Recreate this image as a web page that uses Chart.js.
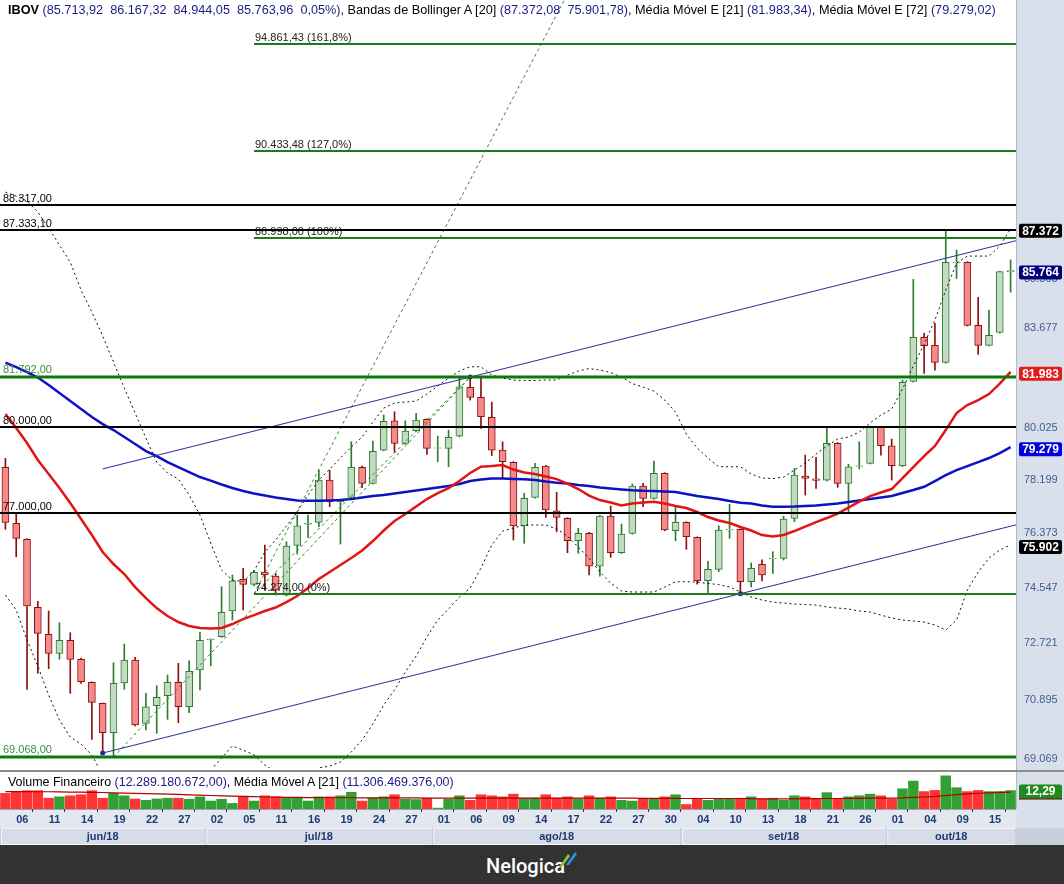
<!DOCTYPE html>
<html><head><meta charset="utf-8">
<script src="https://cdn.jsdelivr.net/npm/chart.js@4/dist/chart.umd.min.js"></script>
<style>
html,body{margin:0;padding:0;background:#fff;}
body{width:1064px;height:884px;overflow:hidden;position:relative;}
#main{position:absolute;left:0;top:0;width:1064px;height:770px;}
#vol{position:absolute;left:0;top:770px;width:1064px;height:75px;}
.hdr{position:absolute;left:8px;white-space:nowrap;font-family:"Liberation Sans",Arial,sans-serif;font-size:12px;color:#000;line-height:14px;}
.hdr .v{color:#1b1b86;}
#footer{position:absolute;left:0;top:845px;width:1064px;height:39px;background:#323232;}
#brand{position:absolute;left:486px;top:9px;font:500 20px Roboto,"Liberation Sans",sans-serif;color:#fff;}
#logo{position:absolute;left:556px;top:3px;}
</style></head><body>
<div id="main"><canvas id="c1"></canvas></div>
<div id="vol"><canvas id="c2"></canvas></div>
<div class="hdr" id="h1" style="top:3px"></div>
<div class="hdr" id="h2" style="top:775px"></div>
<div id="footer"><div id="brand">Nelogica</div>
<svg id="logo" width="24" height="24" viewBox="0 0 24 24"><polygon points="3,19 12,6 14,8 6,19" fill="#8cc63f"/><polygon points="10,17 19,4 21,6 13,17" fill="#1e96dc"/></svg></div>
<script>
// ---------- DATA ----------
const opens  = [78570,76637,76093,73825,72944,72330,72749,72137,71403,70738,69819,71384,72115,70111,70663,70978,71403,70631,71794,72759,72866,73704,74750,74584,74994,74860,74230,75890,76613,76671,78127,77377,77529,78570,78013,79178,80217,79414,79861,80267,79240,79238,79672,81418,81056,80338,79178,78746,76545,77529,78616,77068,76808,76046,76296,75194,76886,75641,76296,77920,77494,78361,76385,76671,76161,74704,75084,76410,76433,74670,75250,75430,75452,76808,78267,78173,78127,79414,78013,78600,78711,79981,79330,78627,81635,83250,82954,82329,86050,86075,83695,82954,83435,85713.92];
const highs  = [78886,76979,76120,74022,73704,73321,72996,72180,71420,70750,72028,72630,72201,71054,71294,71635,72008,72092,73009,72800,74505,74894,75117,75050,75901,74951,76012,76921,76921,78476,78476,77470,79471,78616,79495,80421,80539,80217,80481,80290,79672,79885,81745,81792,81745,80887,79471,78770,77667,78711,78640,77702,76830,76467,76330,76910,77229,76613,77989,78013,78792,78380,77205,76690,76180,75352,76555,77288,76450,75300,75400,75675,76886,78535,79002,78921,79981,79440,78676,79471,80028,80000,79566,81683,85427,83398,83770,87333.10,86547,86100,84745,84268,85740,86167.32];
const lows   = [76433,75506,71180,71689,71836,72137,71054,71371,69614,69190,69068,71180,70027,69903,69800,70236,70130,70443,71158,71932,72850,73409,73737,74540,74396,74230,74200,75597,76161,76521,77205,75934,77500,77861,77990,79150,79097,79390,79840,79027,78767,78592,79640,80959,79946,78985,78187,76070,75958,77500,76842,76351,75641,75621,74894,74860,75486,75620,76270,77205,77470,76385,76046,75755,74594,74306,75004,76127,74274,74500,74700,74950,75395,76692,77608,77840,78100,77875,76999,78511,78690,79002,78127,78600,81610,81927,82047,82300,85465,83670,82622,82930,83410,84944.05];
const closes = [76671,76127,73868,72976,72330,72749,72137,71422,70770,69819,71371,72115,70058,70631,70928,71403,70631,71753,72749,72791,73661,74704,74584,74984,74894,74396,75867,76555,76648,78127,77377,77435,78570,78013,79133,80195,79414,79850,80242,79238,79259,79626,81440,81056,80360,79178,78767,76545,77494,78570,77092,76842,76046,76296,75194,76886,75641,76273,77920,77494,78361,76409,76671,76181,74704,75084,76409,76433,74670,75117,74900,75452,76784,78302,78187,78117,79414,78013,78592,78627,79981,79330,78627,81599,83250,82939,82329,86075,86075,83695,82954,83324,85719,85763.96];
const ema21  = [80456,79957,79425,78827,78337,77850,77332,76784,76239,75665,75262,74927,74495,74131,73802,73540,73344,73214,73149,73132,73149,73279,73442,73572,73704,73819,73999,74197,74462,74760,74994,75228,75462,75715,76036,76392,76715,76955,77212,77470,77677,77850,78093,78372,78592,78616,78651,78493,78389,78337,78250,78162,78006,77816,77591,77435,77349,77247,77315,77349,77377,77315,77229,77161,77024,76852,76733,76647,76511,76392,76239,76188,76239,76375,76528,76681,76818,76972,77178,77384,77574,77695,77816,78197,78581,78967,79320,79885,80492,80779,80959,81175,81556,81983.34];
const ema72  = [82321,82157,81975,81774,81501,81211,80922,80635,80349,80099,79885,79637,79390,79143,78967,78756,78581,78406,78232,78110,77972,77850,77747,77660,77591,77522,77470,77418,77408,77408,77418,77435,77470,77522,77574,77608,77660,77712,77764,77816,77868,77920,77989,78093,78145,78180,78180,78162,78152,78127,78075,78033,78006,77954,77920,77868,77833,77798,77771,77754,77747,77729,77712,77643,77574,77522,77470,77401,77343,77315,77247,77205,77205,77212,77229,77247,77281,77315,77367,77418,77470,77522,77574,77678,77781,77895,78093,78302,78476,78616,78756,78897,79073,79279.02];
const bbUpper= [88810,88652,88455,88024,87399,86740,86086,85020,84192,83298,82340,81393,80492,79602,78756,78372,78162,77608,76921,75968,75061,74727,74677,75028,75665,76070,76545,77024,77608,78127,78511,78897,79284,79637,80170,80671,80851,80887,80923,81175,81465,81755,82011,82168,82168,81865,81755,81683,81665,81665,81683,81683,81865,82011,82102,82047,81956,81792,81556,81429,81284,80959,80528,79743,79249,78897,78592,78592,78592,78337,78197,78180,78232,78476,78721,79037,79320,79566,79637,79814,80134,80421,80635,81357,82194,83002,83893,85020,86048,86317,86317,86317,86702,87372.08];
const bbLower= [74230,73737,72759,71922,71000,70214,69685,69468,69130,68517,68061,67760,67610,67520,67610,67760,67910,68122,68365,68669,69037,69407,69283,69130,68822,68608,68486,68517,68608,68730,68792,68914,69222,69592,70089,70685,71158,71730,72243,72856,73409,73770,74164,74462,75127,75901,76375,76477,76579,76579,76579,76443,76205,75833,75462,74994,74628,74363,74330,74330,74330,74495,74671,74671,74661,74611,74578,74495,74340,74164,74065,74000,73967,73934,73917,73901,73835,73802,73770,73704,73672,73572,73474,73409,73377,73344,73246,73084,73409,74396,74994,75462,75732,75901.78];
// financial volume, billions of R$
const volume = [10.4,11.5,12.2,12.2,7.2,8.1,8.8,9.5,12.2,7.2,10.4,8.8,6.7,5.8,6.7,7.2,7.2,6.5,8.1,5.3,6.5,3.7,8.1,5.3,8.8,8.1,7.2,7.2,5.3,8.1,8.1,8.8,11.1,5.3,7.2,8.1,9.5,6.5,6.3,7.2,0.6,6.5,8.8,5.8,9.5,8.8,8.1,9.9,7.2,7.2,9.5,7.2,8.1,6.7,8.8,7.2,8.1,5.8,5.3,6.7,6.7,8.1,9.5,3.0,6.7,5.8,6.7,6.7,7.2,8.1,6.7,7.2,5.8,8.8,8.1,6.5,10.9,6.5,8.1,8.8,9.9,8.8,6.7,13.5,18.6,11.6,12.4,22.1,14.2,11.6,12.4,11.6,11.6,12.289180672];
const volMA  = [11.6,11.6,11.6,11.5,11.5,11.4,11.3,11.2,11.1,11.0,10.8,10.6,10.4,10.3,10.1,9.9,9.7,9.4,9.2,9.0,8.8,8.6,8.4,8.2,8.0,7.9,7.8,7.7,7.6,7.6,7.5,7.5,7.5,7.4,7.4,7.4,7.4,7.4,7.4,7.3,7.3,7.3,7.3,7.3,7.3,7.3,7.3,7.3,7.3,7.2,7.2,7.2,7.2,7.2,7.2,7.2,7.2,7.2,7.2,7.1,7.1,7.1,7.1,7.0,7.0,7.0,7.0,7.0,7.0,6.9,6.8,6.8,6.8,6.8,6.9,6.9,7.0,7.0,7.1,7.1,7.2,7.2,7.3,7.4,7.7,8.0,8.4,9.0,9.6,10.1,10.5,10.8,11.1,11.306469376];
const prevClose = 85719.0;
// x-axis tick labels (candle index, day text) and months (first candle index)
const xTickIdx  = [1,4,7,10,13,16,19,22,25,28,31,34,37,40,43,46,49,52,55,58,61,64,67,70,73,76,79,82,85,88,91];
const xTickText = ['06','11','14','19','22','27','02','05','11','16','19','24','27','01','06','09','14','17','22','27','30','04','10','13','18','21','26','01','04','09','15'];
const monthStart = [0,19,40,63,82];
const monthText  = ['jun/18','jul/18','ago/18','set/18','out/18'];
// price axis tick labels
const yTicks = [69069,70895,72721,74547,76373,78199,80025,81851,83677,85503,87329];
// drawn horizontal levels
const blackLevels = [88317.00, 87333.10, 80000.00, 77000.00];
const greenLevels = [81792.00, 69068.00];
// Fibonacci extension (A low, B high, C retrace) and projected levels
const fibA = {x:10, y:69068}, fibB = {x:43, y:81792}, fibC = {x:23, y:74274};
const fibLevels = [74274.00, 86998.00, 90433.48, 94861.43];
const fibText   = ['0%','100%','127,0%','161,8%'];
const steepEnd  = {x:52, y:97000};
// parallel channel anchors
const chLow1 = {x:9, y:69190}, chLow2 = {x:68, y:74274}, chHigh = {x:43, y:81792};

// ---------- HELPERS ----------
function br(v, dec){
  let s = Math.abs(v).toFixed(dec); let [a,b] = s.split('.');
  a = a.replace(/\B(?=(\d{3})+(?!\d))/g,'.');
  return (v<0?'-':'') + a + (b!==undefined ? ','+b : '');
}
const N = opens.length;
const idx = opens.map((_,i)=>i);
const isUp = i => closes[i] >= opens[i];
const XMIN = -0.5, XMAX = N - 0.5;
const YMIN = 68731, YMAX = 96736;
const sp = '\u00a0 ';
const last = N-1;
const chg = (closes[last]/prevClose - 1)*100;
const h1 = document.getElementById('h1'), h2 = document.getElementById('h2');
h1.innerHTML =
 '<b>IBOV</b> <span class="v">(' + br(opens[last],2)+sp+br(highs[last],2)+sp+br(lows[last],2)+sp+br(closes[last],2)+sp+br(chg,2)+'%)</span>, Bandas de Bollinger A [20] <span class="v">(' +
 br(bbUpper[last],2)+sp+br(bbLower[last],2)+')</span>, Média Móvel E [21] <span class="v">('+br(ema21[last],2)+')</span>, Média Móvel E [72] <span class="v">('+br(ema72[last],2)+')</span>';
h2.innerHTML =
 'Volume Financeiro <span class="v">(' + br(volume[last]*1e9,2) + ')</span>, Média Móvel A [21] <span class="v">(' + br(volMA[last]*1e9,2) + ')</span>';
function fit(el, target){ const w = el.getBoundingClientRect().width; el.style.fontSize = (12*target/w).toFixed(2)+'px'; }
fit(h1, 988); fit(h2, 446);

const slope = (Math.log(chLow2.y)-Math.log(chLow1.y))/(chLow2.x-chLow1.x);
const ext = (p, x) => p.y*Math.exp(slope*(x-p.x));
const lowerCh = [{x:chLow1.x,y:chLow1.y},{x:XMAX,y:ext(chLow1,XMAX)}];
const upperCh = [{x:chLow1.x,y:ext(chHigh,chLow1.x)},{x:XMAX,y:ext(chHigh,XMAX)}];

const FONT = '"Liberation Sans", Arial, sans-serif';
const STRIP = '#d9dfeb';

function tag(ctx, y, text, bg){
  ctx.save();
  ctx.fillStyle = bg;
  const x0=1019, w=43, h=14;
  ctx.beginPath();
  if (ctx.roundRect) ctx.roundRect(x0, y-h/2, w, h, 2); else ctx.rect(x0,y-h/2,w,h);
  ctx.fill();
  ctx.fillStyle = '#fff';
  ctx.font = 'bold 12px ' + FONT;
  ctx.textBaseline = 'middle'; ctx.textAlign = 'center';
  ctx.fillText(text, x0+w/2, y+0.5);
  ctx.restore();
}

const mainDecor = {
  id:'mainDecor',
  beforeDraw(c){
    const {ctx, chartArea:a, width, height} = c;
    ctx.save();
    ctx.fillStyle='#fff'; ctx.fillRect(0,0,width,height);
    ctx.fillStyle=STRIP; ctx.fillRect(a.right,0,width-a.right,height);
    ctx.fillStyle='#b3bccc'; ctx.fillRect(a.right,0,1,height);
    ctx.restore();
  },
  afterDatasetsDraw(c){
    const {ctx, chartArea:a, scales:{x,y}} = c;
    ctx.save();
    ctx.beginPath(); ctx.rect(a.left,a.top,a.right-a.left,a.bottom-a.top); ctx.clip();
    ctx.font = '11px ' + FONT; ctx.textBaseline='alphabetic'; ctx.textAlign='left';
    const fx = x.getPixelForValue(fibC.x);
    fibLevels.forEach((v,k)=>{
      const py = Math.round(y.getPixelForValue(v));
      ctx.fillStyle='#1c7c1c'; ctx.fillRect(fx, py-1, a.right-fx, 2);
      ctx.fillStyle='#222'; ctx.fillText(br(v,2)+' ('+fibText[k]+')', fx+1, py-3);
    });
    blackLevels.forEach(v=>{
      const py = Math.round(y.getPixelForValue(v));
      ctx.fillStyle='#000'; ctx.fillRect(a.left, py-1, a.right-a.left, 2);
      ctx.fillText(br(v,2), 3, py-3);
    });
    greenLevels.forEach(v=>{
      const py = Math.round(y.getPixelForValue(v));
      ctx.fillStyle='#0b7a0b'; ctx.fillRect(a.left, py-1.5, a.right-a.left, 3);
      ctx.fillStyle='#3c8f3c'; ctx.fillText(br(v,2), 3, py-4);
    });
    ctx.restore();
  },
  afterDraw(c){
    const {ctx, scales:{y}} = c;
    const off = 2;
    tag(ctx, y.getPixelForValue(bbUpper[last])+off, br(bbUpper[last],0), '#000');
    tag(ctx, y.getPixelForValue(closes[last])+off, br(closes[last],0), '#00007a');
    tag(ctx, y.getPixelForValue(ema21[last])+off, br(ema21[last],0), '#e41b1b');
    tag(ctx, y.getPixelForValue(ema72[last])+off, br(ema72[last],0), '#0000d8');
    tag(ctx, y.getPixelForValue(bbLower[last])+off, br(bbLower[last],0), '#000');
  }
};

const upC='#2e7d2e', dnC='#8b1010';
new Chart(document.getElementById('c1'), {
  type:'bar',
  data:{datasets:[
    {type:'line', label:'chDots', data:[chLow1,chLow2,chHigh], showLine:false, pointRadius:2.5, pointBackgroundColor:'#2323a8', pointBorderWidth:0, order:0},
    {type:'line', label:'chLow', data:lowerCh, borderColor:'#2b2ba0', borderWidth:1, pointRadius:0, order:1},
    {type:'line', label:'chHigh', data:upperCh, borderColor:'#2b2ba0', borderWidth:1, pointRadius:0, order:1},
    {type:'line', label:'fibAB', data:[fibA,fibB], borderColor:'#2a8a2a', borderWidth:1, borderDash:[3,3], pointRadius:0, order:1},
    {type:'line', label:'fibCB', data:[fibC,fibB], borderColor:'#2a8a2a', borderWidth:1, borderDash:[3,3], pointRadius:0, order:1},
    {type:'line', label:'fibSteep', data:[fibC,steepEnd], borderColor:'#2a8a2a', borderWidth:1, borderDash:[3,3], pointRadius:0, order:1},
    {type:'line', label:'ema21', data:idx.map(i=>({x:i,y:ema21[i]})), borderColor:'#e31414', borderWidth:2.5, pointRadius:0, order:2},
    {type:'line', label:'ema72', data:idx.map(i=>({x:i,y:ema72[i]})), borderColor:'#0c12c4', borderWidth:2.5, pointRadius:0, order:3},
    {type:'line', label:'bbU', data:idx.map(i=>({x:i,y:bbUpper[i]})), borderColor:'#111', borderWidth:1, borderDash:[2,3], pointRadius:0, order:4},
    {type:'line', label:'bbL', data:idx.map(i=>({x:i,y:bbLower[i]})), borderColor:'#111', borderWidth:1, borderDash:[2,3], pointRadius:0, order:4},
    {type:'bar', label:'body', data:idx.map(i=>({x:i,y:[opens[i],closes[i]]})), grouped:false, barThickness:7, borderWidth:1, borderSkipped:false,
      backgroundColor:ctx=>isUp(ctx.dataIndex)?'#c3dbc3':'#f58a8a', borderColor:ctx=>isUp(ctx.dataIndex)?upC:dnC, order:5},
    {type:'bar', label:'wick', data:idx.map(i=>({x:i,y:[lows[i],highs[i]]})), grouped:false, barThickness:1, borderWidth:0,
      backgroundColor:ctx=>isUp(ctx.dataIndex)?upC:dnC, order:6}
  ]},
  options:{
    responsive:true, maintainAspectRatio:false, animation:false, events:[],
    layout:{autoPadding:false, padding:{top:0,bottom:2,left:0,right:0}},
    plugins:{legend:{display:false}, tooltip:{enabled:false}},
    scales:{
      x:{type:'linear', min:XMIN, max:XMAX, offset:false, display:false},
      y:{type:'logarithmic', position:'right', min:YMIN, max:YMAX,
        afterFit(s){s.width=48; s.paddingTop=0; s.paddingBottom=0;},
        afterBuildTicks(s){s.ticks = yTicks.map(v=>({value:v}));},
        grid:{display:false, drawTicks:false}, border:{display:false},
        ticks:{padding:8, labelOffset:2, color:'#3f5f8c', font:{family:FONT,size:11}, callback:v=>br(v,0)}}
    }
  },
  plugins:[mainDecor]
});

const volDecor = {
  id:'volDecor',
  beforeDraw(c){
    const {ctx, chartArea:a, width, height, scales:{x}} = c;
    ctx.save();
    ctx.fillStyle='#fff'; ctx.fillRect(0,0,width,height);
    ctx.fillStyle=STRIP; ctx.fillRect(a.right,0,width-a.right,height);
    ctx.fillStyle='#b3bccc'; ctx.fillRect(a.right,0,1,a.bottom);
    ctx.fillStyle='#e2e7f0'; ctx.fillRect(0,a.bottom,a.right,19);
    ctx.fillStyle='#8d8d8d'; ctx.fillRect(0,0,width,2);
    ctx.fillStyle='#9aa3b5'; ctx.fillRect(0,a.bottom,a.right,1);
    const top = a.bottom+19, h = height-top;
    ctx.fillStyle='#c7cfdd'; ctx.fillRect(0,top,width,h);
    ctx.font='bold 11px '+FONT; ctx.textAlign='center'; ctx.textBaseline='middle';
    monthStart.forEach((s,k)=>{
      const x0 = x.getPixelForValue(s-0.5)+1;
      const e = k+1<monthStart.length ? monthStart[k+1]-0.5 : XMAX;
      const x1 = x.getPixelForValue(e)-1;
      ctx.fillStyle='#f4f6fa'; ctx.fillRect(x0,top,x1-x0,h);
      ctx.fillStyle='#d6dce8'; ctx.fillRect(x0+1,top+1,x1-x0-1,h-2);
      ctx.fillStyle='#1d3b72'; ctx.fillText(monthText[k], (x0+x1)/2, top+h/2+0.5);
    });
    ctx.restore();
  },
  afterDraw(c){
    const {ctx, scales:{y}} = c;
    const py = y.getPixelForValue(volume[last]) + 1;
    ctx.save();
    ctx.fillStyle='#7a1010'; ctx.fillRect(1019, py+6, 43, 2);
    ctx.restore();
    tag(ctx, py, br(volume[last],2), '#1f8a1f');
  }
};

new Chart(document.getElementById('c2'), {
  type:'bar',
  data:{datasets:[
    {type:'line', data:idx.map(i=>({x:i,y:volMA[i]})), borderColor:'#b00000', borderWidth:1.2, pointRadius:0, order:0},
    {type:'bar', data:idx.map(i=>({x:i,y:volume[i]})), grouped:false, barThickness:9.8, borderWidth:0,
      backgroundColor:ctx=>isUp(ctx.dataIndex)?'#33a033':'#ff3535', order:1}
  ]},
  options:{
    responsive:true, maintainAspectRatio:false, animation:false, events:[],
    layout:{autoPadding:false, padding:{top:0,bottom:17,left:0,right:0}},
    plugins:{legend:{display:false}, tooltip:{enabled:false}},
    scales:{
      x:{type:'linear', min:XMIN, max:XMAX, offset:false, position:'bottom',
        afterFit(s){s.height=19; s.paddingLeft=0; s.paddingRight=0;},
        afterBuildTicks(s){s.ticks = xTickIdx.map(v=>({value:v}));},
        grid:{display:true, drawOnChartArea:false, drawTicks:true, tickLength:3, color:'#1d3b72'}, border:{display:false},
        ticks:{autoSkip:false, maxRotation:0, align:'start', padding:1, color:'#1d3b72', font:{family:FONT,size:11,weight:'bold'},
          callback:(v)=>{const k=xTickIdx.indexOf(v); return k>=0?xTickText[k]:'';}}},
      y:{type:'linear', position:'right', min:0, max:26,
        afterFit(s){s.width=48; s.paddingTop=0; s.paddingBottom=0;}, grid:{display:false}, border:{display:false}, ticks:{display:false}}
    }
  },
  plugins:[volDecor]
});
</script>
</body></html>
